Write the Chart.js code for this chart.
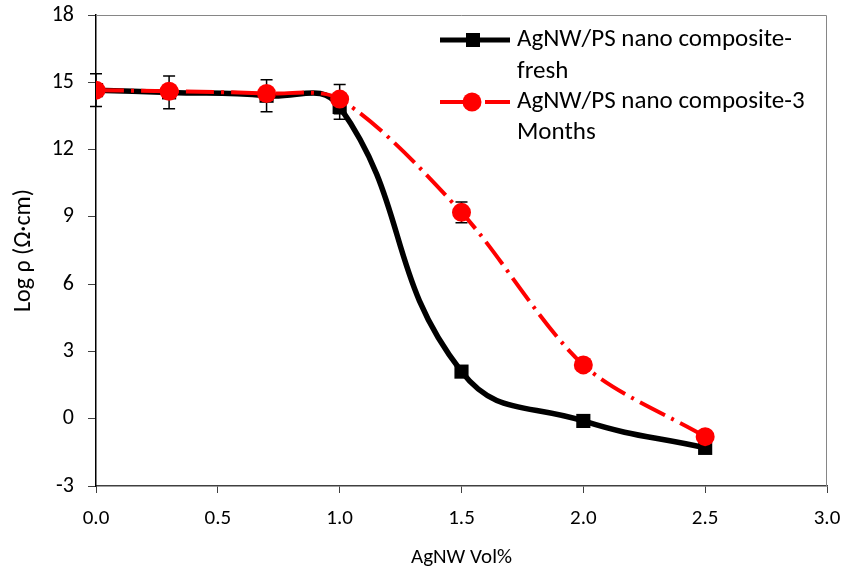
<!DOCTYPE html>
<html lang="en">
  <head>
    <meta charset="UTF-8">
    <script src="https://cdn.jsdelivr.net/npm/chart.js"></script>
    <title>AgNW/PS resistivity</title>
    <style>
      body { margin: 0; background: #fff; }
      #wrap { width: 847px; height: 575px; }
    </style>
  </head>
  <body>
    <div id="wrap"><canvas id="myChart" width="847" height="575"></canvas></div>
    <script>
      // data
      const volPct = [0, 0.3, 0.7, 1.0, 1.5, 2.0, 2.5];
      const freshLog = [14.65, 14.55, 14.4, 13.9, 2.1, -0.1, -1.3];
      const monthsLog = [14.65, 14.6, 14.5, 14.25, 9.2, 2.4, -0.8];
      const freshErr = [0.73, 0.73, 0.71, 0.55, 0, 0, 0];
      const monthsErr = [0, 0, 0, 0.65, 0.46, 0, 0];
      const freshLabel = ['AgNW/PS nano composite-', 'fresh'];
      const monthsLabel = ['AgNW/PS nano composite-3', 'Months'];
      const xTicks = [0, 0.5, 1.0, 1.5, 2.0, 2.5, 3.0];
      const yTicks = [-3, 0, 3, 6, 9, 12, 15, 18];

      const FONT = "Carlito, Lato, 'Open Sans', sans-serif";
      const ctx = document.getElementById('myChart');

      const toPts = (ys) => volPct.map((x, i) => ({ x: x, y: ys[i] }));

      // error bars + plot frame
      const errorBars = {
        id: 'errorBars',
        beforeDatasetsDraw(chart) {
          const c = chart.ctx, xs = chart.scales.x, ys = chart.scales.y;
          const a = chart.chartArea;
          c.save();
          c.strokeStyle = '#868686';
          c.lineWidth = 1;
          c.beginPath();
          c.moveTo(a.left, a.top + 0.5);
          c.lineTo(a.right - 0.5, a.top + 0.5);
          c.lineTo(a.right - 0.5, a.bottom);
          c.stroke();
          c.strokeStyle = '#000';
          c.lineWidth = 1.5;
          [[freshLog, freshErr], [monthsLog, monthsErr]].forEach(([vals, errs]) => {
            vals.forEach((v, i) => {
              if (!errs[i]) return;
              const px = xs.getPixelForValue(volPct[i]);
              const top = ys.getPixelForValue(v + errs[i]);
              const bot = ys.getPixelForValue(v - errs[i]);
              c.beginPath();
              c.moveTo(px, top); c.lineTo(px, bot);
              c.moveTo(px - 6, top); c.lineTo(px + 6, top);
              c.moveTo(px - 6, bot); c.lineTo(px + 6, bot);
              c.stroke();
            });
          });
          c.restore();
        }
      };

      // two-line legend in the top right
      const legendBox = {
        id: 'legendBox',
        afterDraw(chart) {
          const c = chart.ctx;
          c.save();
          c.font = '25px ' + FONT;
          c.textBaseline = 'middle';
          c.fillStyle = '#000';
          // fresh
          c.strokeStyle = '#000';
          c.lineWidth = 5;
          c.beginPath(); c.moveTo(440, 40); c.lineTo(510, 40); c.stroke();
          c.fillRect(466, 33, 14, 14);
          c.fillText(freshLabel[0], 517, 40);
          c.fillText(freshLabel[1], 517, 72);
          // 3 months
          c.strokeStyle = '#ff0000';
          c.fillStyle = '#ff0000';
          c.lineWidth = 4;
          c.setLineDash([28, 7, 3, 7]);
          c.beginPath(); c.moveTo(440, 102); c.lineTo(510, 102); c.stroke();
          c.setLineDash([]);
          c.beginPath(); c.arc(472, 102, 9.5, 0, Math.PI * 2); c.fill();
          c.fillStyle = '#000';
          c.fillText(monthsLabel[0], 517, 102);
          c.fillText(monthsLabel[1], 517, 133);
          c.restore();
        }
      };

      new Chart(ctx, {
        type: 'scatter',
        data: {
          datasets: [
            {
              label: freshLabel.join(''),
              data: toPts(freshLog),
              showLine: true,
              tension: 0.45,
              borderColor: '#000',
              backgroundColor: '#000',
              borderWidth: 5.5,
              pointStyle: 'rect',
              pointRadius: 10,
              pointBorderWidth: 0,
              order: 1
            },
            {
              label: monthsLabel.join(''),
              data: toPts(monthsLog),
              showLine: true,
              tension: 0.3,
              borderColor: '#ff0000',
              backgroundColor: '#ff0000',
              borderWidth: 4,
              borderDash: [28, 7, 3, 7],
              pointStyle: 'circle',
              pointRadius: 9.5,
              pointBorderWidth: 0,
              order: 0
            }
          ]
        },
        options: {
          responsive: false,
          animation: false,
          layout: { padding: { top: 15, right: 20, left: 0, bottom: 0 } },
          plugins: {
            legend: { display: false },
            tooltip: { enabled: false }
          },
          scales: {
            x: {
              type: 'linear',
              min: 0,
              max: 3,
              afterFit: (s) => { s.height = 89; s.paddingLeft = 0; s.paddingRight = 0; },
              afterBuildTicks: (s) => { s.ticks = xTicks.map(v => ({ value: v })); },
              ticks: {
                color: '#000',
                font: { family: FONT, size: 21 },
                padding: 13,
                callback: (v) => Number(v).toFixed(1)
              },
              grid: { drawOnChartArea: false, tickLength: 7, color: '#404040', tickWidth: 1 },
              border: { color: '#404040', width: 1.5 },
              title: {
                display: true,
                text: 'AgNW Vol%',
                color: '#000',
                font: { family: FONT, size: 21 },
                padding: { top: 0, bottom: 5 }
              }
            },
            y: {
              type: 'linear',
              min: -3,
              max: 18,
              afterFit: (s) => { s.width = 96; s.paddingTop = 0; s.paddingBottom = 0; },
              afterBuildTicks: (s) => { s.ticks = yTicks.map(v => ({ value: v })); },
              ticks: {
                color: '#000',
                font: { family: FONT, size: 22 },
                padding: 14
              },
              grid: { drawOnChartArea: false, tickLength: 8, color: '#404040', tickWidth: 1 },
              border: { color: '#000', width: 1.5 },
              title: {
                display: true,
                text: 'Log ρ (Ω·cm)',
                color: '#000',
                font: { family: FONT, size: 24 },
                padding: { top: 10, bottom: 0 }
              }
            }
          }
        },
        plugins: [errorBars, legendBox]
      });
    </script>
  </body>
</html>
